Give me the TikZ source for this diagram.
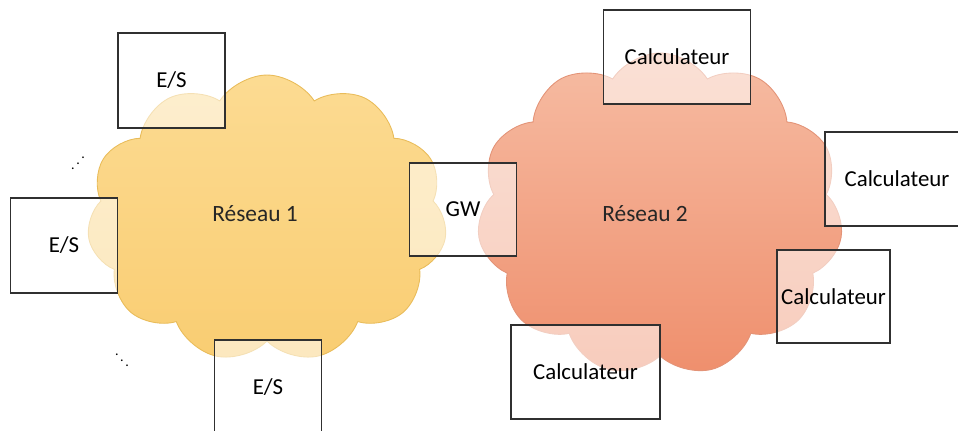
\documentclass[tikz,border=0pt]{standalone}
\usepackage{fontspec}
\setmainfont{Carlito}
\usetikzlibrary{shapes.symbols,positioning}
\definecolor{netonetop}{HTML}{FCDB92}
\definecolor{netonebot}{HTML}{F9CD72}
\definecolor{netoneline}{HTML}{E9BC5A}
\definecolor{nettwotop}{HTML}{F6BCA3}
\definecolor{nettwobot}{HTML}{EF8F6D}
\definecolor{nettwoline}{HTML}{E39377}
\definecolor{boxline}{HTML}{303030}

\begin{document}
\begin{tikzpicture}[
  x=0.02cm, y=0.02cm,
  netcloud/.style={cloud, cloud puffs=11, cloud puff arc=115, draw, line width=0.5pt, inner sep=0pt},
  esblock/.style={rectangle, draw=boxline, line width=0.9pt, fill=white, fill opacity=0.55, text opacity=1, minimum width=2.14cm, minimum height=1.9cm, font=\fontsize{13}{15}\selectfont},
  calcblock/.style={esblock, inner xsep=2pt, minimum width=2.94cm},
  netlabel/.style={font=\fontsize{13.3}{15}\selectfont, text=black!85}
]
  \useasboundingbox (0,0) rectangle (958,430);

  % Networks
  \node[netcloud, top color=netonetop, bottom color=netonebot, draw=netoneline, minimum width=7.2cm, minimum height=5.74cm] (net1) at (267,211.5) {};
  \node[netcloud, top color=nettwotop, bottom color=nettwobot, draw=nettwoline, minimum width=7.32cm, minimum height=6.46cm] (net2) at (660,215.5) {};
  \node[netlabel] (lbl1) at (255,216) {Réseau 1};
  \node[netlabel] (lbl2) at (645,216) {Réseau 2};

  % E/S around network 1
  \node[esblock] (es_top) at (171.5,349.5) {E/S};
  \node[esblock] (es_left) at (64,184.5) {E/S};
  \node[esblock] (es_bot) at (268,42.5) {E/S};
  \node[font=\footnotesize] (dots_left) at (78,272) {\reflectbox{$\ddots$}};
  \node[font=\footnotesize] (dots_bot) at (122,75) {$\ddots$};

  % Gateway
  \node[esblock, minimum height=1.86cm] (gw) at (463,220.5) {GW};

  % Calculators around network 2
  \node[calcblock, minimum height=1.88cm] (calc_top) at (677,373) {Calculateur};
  \node[calcblock, minimum width=2.88cm, minimum height=1.88cm] (calc_right) at (897,251) {Calculateur};
  \node[calcblock, minimum width=2.26cm, minimum height=1.86cm] (calc_mid) at (833.5,133.5) {Calculateur};
  \node[calcblock, minimum width=2.98cm, minimum height=1.88cm] (calc_bot) at (585.5,58) {Calculateur};

\end{tikzpicture}
\end{document}
